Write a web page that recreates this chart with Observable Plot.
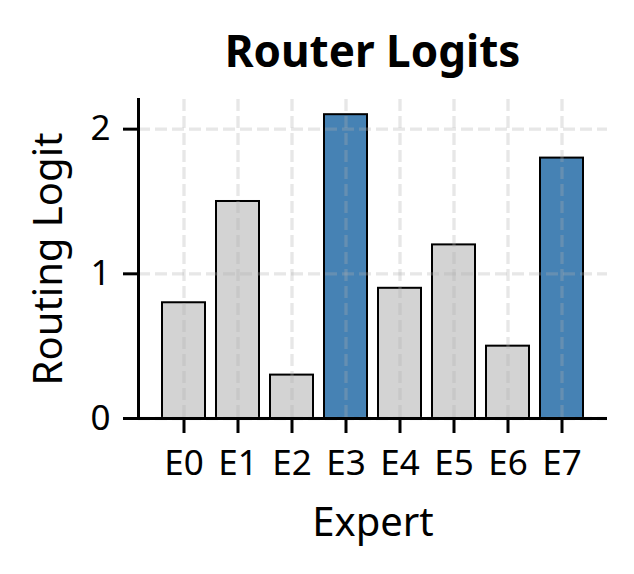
<!DOCTYPE html>
<html>
<head>
<meta charset="utf-8">
<script src="https://cdn.jsdelivr.net/npm/d3@7"></script>
<script src="https://cdn.jsdelivr.net/npm/@observablehq/plot@0.6"></script>
<style>
  body { margin: 0; background: #fff; }
  #wrap { width: 634px; height: 574px; position: relative; }
  #title { position: absolute; left: 138px; width: 469px; top: 0; height: 90px;
    text-align: center; font: bold 44px "Noto Sans", sans-serif; line-height: 1; padding-top: 28px; box-sizing: border-box; color: #000; }
  #chart { position: absolute; left: 0; top: 90px; }
</style>
</head>
<body>
<div id="wrap">
  <div id="title">Router Logits</div>
  <div id="chart"></div>
</div>
<script>
const experts = ["E0", "E1", "E2", "E3", "E4", "E5", "E6", "E7"];
const logits = [0.8, 1.5, 0.3, 2.1, 0.9, 1.2, 0.5, 1.8];
const highlighted = ["E3", "E7"];
const yTicks = [0, 1, 2];

const data = experts.map((e, i) => ({expert: e, logit: logits[i], hot: highlighted.includes(e)}));

const gridStyle = {stroke: "#b0b0b0", strokeOpacity: 0.3, strokeWidth: 3.3, strokeDasharray: "12,5"};

const plot = Plot.plot({
  width: 634,
  height: 484,
  marginLeft: 138,
  marginRight: 27,
  marginTop: 9,
  marginBottom: 156,
  style: {fontFamily: "Noto Sans", fontSize: "35px", color: "#000", background: "#fff"},
  x: {type: "band", domain: experts, paddingInner: 0.2, paddingOuter: 0.4},
  y: {domain: [0, 2.205]},
  marks: [
    Plot.barY(data, {x: "expert", y: "logit", fill: d => d.hot ? "#4682b4" : "#d3d3d3", stroke: "#000", strokeWidth: 2}),
    Plot.gridX({...gridStyle}),
    Plot.gridY(yTicks, {...gridStyle}),
    Plot.axisX({tickSize: 15, tickPadding: 17, strokeWidth: 3, label: null, fontSize: 35}),
    Plot.axisX([], {tickSize: 0, label: "Expert", labelAnchor: "center", labelArrow: "none", labelOffset: 117, fontSize: 40}),
    Plot.axisY(yTicks, {tickSize: 15, tickPadding: 13, strokeWidth: 3, tickFormat: d3.format("d"), label: null, fontSize: 35}),
    Plot.axisY([], {tickSize: 0, label: "Routing Logit", labelAnchor: "center", labelArrow: "none", labelOffset: 105, fontSize: 40}),
    Plot.ruleY([0], {strokeWidth: 3}),
    Plot.frame({anchor: "left", strokeWidth: 3})
  ]
});
document.getElementById("chart").appendChild(plot);
</script>
</body>
</html>
